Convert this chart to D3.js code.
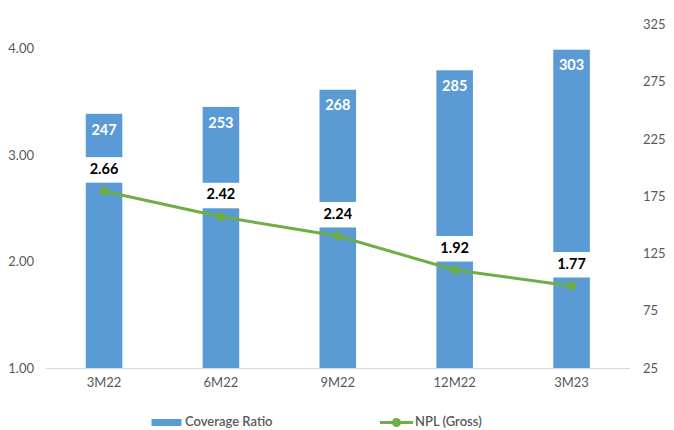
<!DOCTYPE html>
<html>
<head>
<meta charset="utf-8">
<script src="https://cdn.jsdelivr.net/npm/d3@7"></script>
<style>
  html, body { margin: 0; padding: 0; background: #fff; }
  svg { display: block; font-family: Lato, "Open Sans", sans-serif; }
</style>
</head>
<body>
<svg id="chart" width="674" height="430"></svg>
<script>
// Quarterly periods
const categories = ["3M22", "6M22", "9M22", "12M22", "3M23"];
// Coverage ratio (%), right axis, bars
const coverageRatio = [247, 253, 268, 285, 303];
// Gross NPL ratio (%), left axis, line
const nplGross = [2.66, 2.42, 2.24, 1.92, 1.77];
// Axis ticks
const leftTicks = [1, 2, 3, 4];
const rightTicks = [25, 75, 125, 175, 225, 275, 325];

const barColor = "#5B9BD5";
const lineColor = "#70AD47";
const textGray = "#595959";

const svg = d3.select("#chart");

const plot = { left: 45.6, right: 630, bottom: 368 };

const x = d3.scaleBand()
  .domain(categories)
  .range([plot.left, plot.right])
  .paddingInner(0.687)
  .paddingOuter(0.3435);

const yLeft = d3.scaleLinear().domain([1, 4]).range([plot.bottom, 48.5]);
const yRight = d3.scaleLinear().domain([25, 325]).range([plot.bottom, 24.5]);

// Left axis labels
const leftAxis = svg.append("g")
  .attr("transform", `translate(${34},0)`)
  .call(d3.axisLeft(yLeft).tickValues(leftTicks).tickFormat(d3.format(".2f")).tickSize(0).tickPadding(0));
leftAxis.select(".domain").remove();
leftAxis.selectAll("text").attr("fill", textGray).attr("font-size", 13).attr("font-family", "Lato, sans-serif");

// Right axis labels
const rightAxis = svg.append("g")
  .attr("transform", `translate(${643},0)`)
  .call(d3.axisRight(yRight).tickValues(rightTicks).tickFormat(d3.format("d")).tickSize(0).tickPadding(0));
rightAxis.select(".domain").remove();
rightAxis.selectAll("text").attr("fill", textGray).attr("font-size", 13).attr("font-family", "Lato, sans-serif");

// Bars
svg.append("g").selectAll("rect")
  .data(categories)
  .join("rect")
  .attr("x", d => x(d))
  .attr("width", x.bandwidth())
  .attr("y", (d, i) => yRight(coverageRatio[i]))
  .attr("height", (d, i) => plot.bottom - yRight(coverageRatio[i]))
  .attr("fill", barColor);

// Baseline
svg.append("line")
  .attr("x1", plot.left).attr("x2", plot.right)
  .attr("y1", plot.bottom + 0.5).attr("y2", plot.bottom + 0.5)
  .attr("stroke", "#d9d9d9").attr("stroke-width", 1);

// Category axis
const xAxis = svg.append("g")
  .attr("transform", `translate(0,${plot.bottom})`)
  .call(d3.axisBottom(x).tickSize(0).tickPadding(10));
xAxis.select(".domain").remove();
xAxis.selectAll("text").attr("fill", textGray).attr("font-size", 13).attr("font-family", "Lato, sans-serif");

// Bar value labels
svg.append("g").selectAll("text")
  .data(categories)
  .join("text")
  .attr("x", d => x(d) + x.bandwidth() / 2)
  .attr("y", (d, i) => yRight(coverageRatio[i]) + 17)
  .attr("text-anchor", "middle")
  .attr("dominant-baseline", "middle")
  .attr("fill", "#fff")
  .attr("font-size", 14.5)
  .attr("font-weight", "bold")
  .text((d, i) => coverageRatio[i]);

// NPL label backgrounds and labels
const npl = svg.append("g");
npl.selectAll("rect")
  .data(categories)
  .join("rect")
  .attr("x", d => x(d) + x.bandwidth() / 2 - 22)
  .attr("width", 44)
  .attr("y", (d, i) => yLeft(nplGross[i]) - 34)
  .attr("height", 25.5)
  .attr("fill", "#fff");

// Line
const line = d3.line()
  .x((d, i) => x(categories[i]) + x.bandwidth() / 2)
  .y(d => yLeft(d));

svg.append("path")
  .datum(nplGross)
  .attr("d", line)
  .attr("fill", "none")
  .attr("stroke", lineColor)
  .attr("stroke-width", 3)
  .attr("stroke-linejoin", "round");

svg.append("g").selectAll("circle")
  .data(nplGross)
  .join("circle")
  .attr("cx", (d, i) => x(categories[i]) + x.bandwidth() / 2)
  .attr("cy", d => yLeft(d))
  .attr("r", 4.5)
  .attr("fill", lineColor);

npl.selectAll("text")
  .data(categories)
  .join("text")
  .attr("x", d => x(d) + x.bandwidth() / 2)
  .attr("y", (d, i) => yLeft(nplGross[i]) - 21)
  .attr("text-anchor", "middle")
  .attr("dominant-baseline", "middle")
  .attr("fill", "#000")
  .attr("font-size", 14.5)
  .attr("font-weight", "bold")
  .text((d, i) => d3.format(".2f")(nplGross[i]));

// Legend
const legend = svg.append("g").attr("font-size", 13).attr("fill", textGray).attr("font-weight", 600);
legend.append("rect")
  .attr("x", 151.5).attr("y", 419).attr("width", 30).attr("height", 7)
  .attr("fill", barColor);
legend.append("text")
  .attr("x", 185).attr("y", 422.5)
  .attr("dominant-baseline", "middle")
  .text("Coverage Ratio");
legend.append("line")
  .attr("x1", 380).attr("x2", 413).attr("y1", 422.5).attr("y2", 422.5)
  .attr("stroke", lineColor).attr("stroke-width", 3);
legend.append("circle")
  .attr("cx", 396.5).attr("cy", 422.5).attr("r", 4.5).attr("fill", lineColor);
legend.append("text")
  .attr("x", 415).attr("y", 422.5)
  .attr("dominant-baseline", "middle")
  .text("NPL (Gross)");
</script>
</body>
</html>
